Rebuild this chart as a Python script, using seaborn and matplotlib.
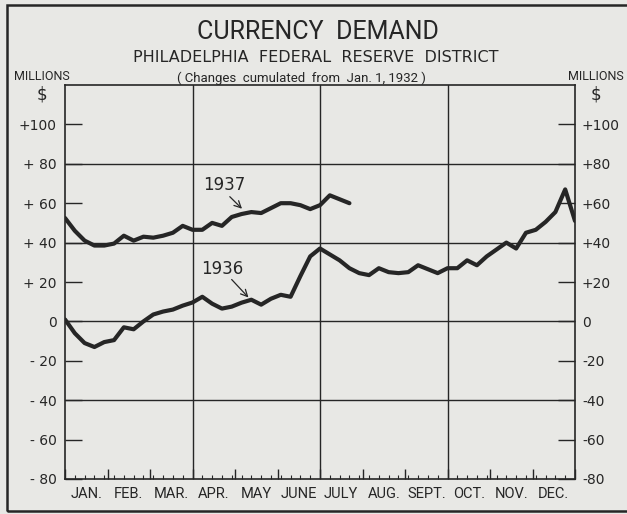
import numpy as np
import pandas as pd
import seaborn as sns
import matplotlib.pyplot as plt
from matplotlib.patches import Rectangle

# weekly readings, millions of dollars (changes cumulated from Jan. 1, 1932)
values_1936 = [1, -6, -11, -13, -10.5, -9.5, -3, -4, 0, 3.5, 5, 6, 8, 9.6, 12.5, 9,
               6.5, 7.5, 9.5, 11, 8.5, 11.5, 13.5, 12.5, 23, 33, 37, 34, 31, 27,
               24.5, 23.5, 27, 25, 24.5, 25, 28.5, 26.5, 24.5, 27, 27, 31, 28.5, 33,
               36.5, 40, 37, 45, 46.5, 50.5, 55.5, 67, 51]
values_1937 = [52.5, 46, 41, 38.5, 38.5, 39.5, 43.5, 41, 43, 42.5, 43.5, 45, 48.5,
               46.5, 46.5, 50, 48.5, 53, 54.5, 55.5, 55, 57.5, 60, 60, 59, 57, 59,
               64, 62, 60]
months = ["JAN.", "FEB.", "MAR.", "APR.", "MAY", "JUNE", "JULY", "AUG.", "SEPT.",
          "OCT.", "NOV.", "DEC."]
left_labels = ["- 80", "- 60", "- 40", "- 20", "0", "+ 20", "+ 40", "+ 60", "+ 80", "+100"]
right_labels = ["-80", "-60", "-40", "-20", "0", "+20", "+40", "+60", "+80", "+100"]
y_ticks = [-80, -60, -40, -20, 0, 20, 40, 60, 80, 100]

df = pd.concat([
    pd.DataFrame({"week": np.arange(len(values_1936)), "value": values_1936, "year": "1936"}),
    pd.DataFrame({"week": np.arange(len(values_1937)), "value": values_1937, "year": "1937"}),
])

bg = "#e8e8e5"
ink = "#262626"
narrow = ["Roboto", "DejaVu Sans"]

sns.set_theme(style="white")
plt.rcParams["font.family"] = ["DejaVu Sans"]
fig = plt.figure(figsize=(6.27, 5.14), dpi=100, facecolor=bg)
ax = fig.add_axes([65 / 627, 1 - 479 / 514, 510 / 627, 394 / 514])
ax.set_facecolor(bg)

sns.lineplot(data=df, x="week", y="value", hue="year", palette=[ink, ink],
             linewidth=3.0, legend=False, ax=ax)

ax.set_xlim(0, 52)
ax.set_ylim(-80, 120)
for s in ax.spines.values():
    s.set_color(ink)
    s.set_linewidth(1.2)

# grid: horizontal full lines, vertical at quarters
for yv in [80, 40, 0, -40]:
    ax.axhline(yv, color=ink, lw=1.0, zorder=0)
for q in [1, 2, 3]:
    ax.axvline(q * 13, color=ink, lw=1.0, zorder=0)

# y ticks (short, inward) on both sides
ax.set_yticks(y_ticks)
ax.set_yticklabels(left_labels)
ax.tick_params(axis="y", direction="in", length=12, width=1.0, color=ink,
               labelsize=10, labelcolor=ink, pad=6, right=True)
ax2 = ax.twinx()
ax2.set_ylim(ax.get_ylim())
ax2.set_yticks(y_ticks)
ax2.set_yticklabels(right_labels)
ax2.tick_params(axis="y", direction="in", length=12, width=1.0, color=ink,
                labelsize=10, labelcolor=ink, pad=5)
ax2.grid(False)
for s in ax2.spines.values():
    s.set_visible(False)

# x ticks: month boundaries tall, weeks short
month_bounds = [k * 52 / 12 for k in range(13)]
ax.set_xticks(month_bounds)
ax.set_xticklabels([])
ax.set_xticks(np.arange(0, 53), minor=True)
ax.tick_params(axis="x", which="major", direction="in", length=7, width=1.0, color=ink, bottom=True)
ax.tick_params(axis="x", which="minor", direction="in", length=3, width=0.8, color=ink, bottom=True)
for i, m in enumerate(months):
    ax.text((month_bounds[i] + month_bounds[i + 1]) / 2, -84, m, ha="center", va="top",
            fontsize=10.5, family=narrow, color=ink)
ax.set_xlabel("")
ax.set_ylabel("")

# labels for the two years
ax.annotate("", xy=(18.25, 56.2), xytext=(16.6, 64.3),
            arrowprops=dict(arrowstyle="->", color=ink, lw=0.9))
ax.text(16.2, 69.1, "1937", ha="center", va="center", fontsize=12, color=ink)
ax.annotate("", xy=(18.9, 11.1), xytext=(16.8, 22.3),
            arrowprops=dict(arrowstyle="->", color=ink, lw=0.9))
ax.text(16.06, 26.8, "1936", ha="center", va="center", fontsize=12, color=ink)

# titles
fig.text(318 / 627, 1 - 32 / 514, "CURRENCY  DEMAND", ha="center", va="center",
         fontsize=18, family=narrow, color=ink)
fig.text(316 / 627, 1 - 57 / 514, "PHILADELPHIA  FEDERAL  RESERVE  DISTRICT", ha="center",
         va="center", fontsize=11.5, color=ink)
fig.text(301 / 627, 1 - 78 / 514, "( Changes  cumulated  from  Jan. 1, 1932 )", ha="center",
         va="center", fontsize=9.5, family=narrow, color=ink)
for xc in [42, 596]:
    fig.text(xc / 627, 1 - 77 / 514, "MILLIONS", ha="center", va="center",
             fontsize=9, family=narrow, color=ink)
    fig.text(xc / 627, 1 - 94 / 514, "$", ha="center", va="center", fontsize=12, color=ink)

# outer frame (right edge runs off the picture)
fig.patches.append(Rectangle((7 / 627, 3 / 514), 640 / 627, 506 / 514, transform=fig.transFigure,
                             fill=False, edgecolor=ink, lw=1.8))

fig.savefig("out.png", dpi=100, facecolor=bg)
